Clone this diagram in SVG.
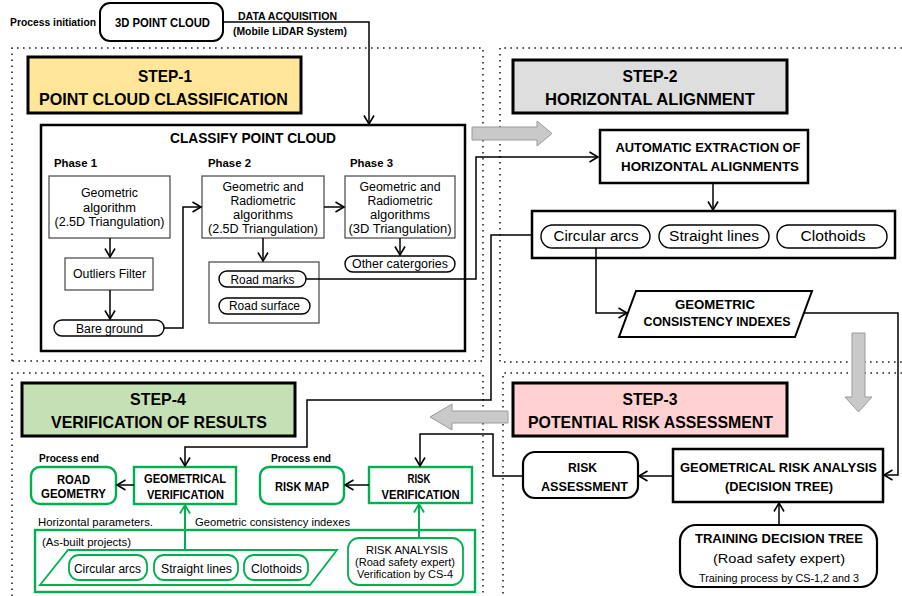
<svg xmlns="http://www.w3.org/2000/svg" width="902" height="596" viewBox="0 0 902 596">
<defs>
<marker id="ah" markerUnits="userSpaceOnUse" markerWidth="14" markerHeight="14" refX="9.5" refY="6" orient="auto">
<path d="M1,1 L9.5,6 L1,11" fill="none" stroke="#000" stroke-width="1.6"/>
</marker>
<marker id="ahg" markerUnits="userSpaceOnUse" markerWidth="14" markerHeight="14" refX="9.5" refY="6" orient="auto">
<path d="M1,1 L9.5,6 L1,11" fill="none" stroke="#00B050" stroke-width="1.8"/>
</marker>
</defs>
<style>
text{font-family:"Liberation Sans",Arial,sans-serif;fill:#000}
.b{font-weight:bold}
.step{font-size:17px;font-weight:bold}
.dot{fill:none;stroke:#222;stroke-width:1.6;stroke-dasharray:1.6 4.4}
.thick{fill:#fff;stroke:#000;stroke-width:2.5}
.thin{fill:#fff;stroke:#444;stroke-width:1.2}
.pill{fill:#fff;stroke:#000;stroke-width:1.4}
.g{fill:#fff;stroke:#00B050;stroke-width:2.4}
.gt{fill:#fff;stroke:#00B050;stroke-width:1.8}
.nf{fill:none}
.c{fill:none;stroke:#000;stroke-width:1.5}
.cg{fill:none;stroke:#00B050;stroke-width:2}
.blk{fill:#C9C9C9;stroke:#9A9A9A;stroke-width:1}
</style>

<g id="regions">
<path class="dot" d="M12,361 V48 H483 V361 H12"/>
<path class="dot" d="M902,48 H500 V362 H902"/>
<path class="dot" d="M12,596 V373 H483 V596"/>
<path class="dot" d="M902,373 H503 V596"/>
</g>

<g id="block-arrows">
<polygon class="blk" points="472,127 537,127 537,121 552,133.5 537,146 537,140 472,140"/>
<polygon class="blk" points="852,333 865,333 865,397 872,397 858.5,412 845,397 852,397"/>
<polygon class="blk" points="508,411 452,411 452,404 430,417 452,430 452,423 508,423"/>
</g>

<g id="start">
<text class="b" x="10" y="25.5" font-size="10" textLength="86" lengthAdjust="spacingAndGlyphs">Process initiation</text>
<text class="b" x="287.5" y="19.5" font-size="10" text-anchor="middle" textLength="99" lengthAdjust="spacingAndGlyphs">DATA ACQUISITION</text>
<text class="b" x="290" y="34.5" font-size="10" text-anchor="middle" textLength="114" lengthAdjust="spacingAndGlyphs">(Mobile LiDAR System)</text>
</g>
<g id="point-cloud">
<rect x="100" y="3" width="123" height="38" rx="10" fill="#fff" stroke="#000" stroke-width="2"/>
<text class="b" x="162.5" y="26.5" font-size="12.5" text-anchor="middle" textLength="95" lengthAdjust="spacingAndGlyphs">3D POINT CLOUD</text>
</g>

<g id="step1">
<rect x="28" y="57" width="273" height="56" fill="#FFE699" stroke="#000" stroke-width="3"/>
<text class="step" x="165" y="82" text-anchor="middle" textLength="54" lengthAdjust="spacingAndGlyphs">STEP-1</text>
<text class="step" x="163.5" y="105" text-anchor="middle" textLength="249" lengthAdjust="spacingAndGlyphs">POINT CLOUD CLASSIFICATION</text>
</g>
<g id="classify">
<rect class="thick nf" x="41" y="125" width="424" height="226"/>
<text class="b" x="253" y="143" font-size="14.5" text-anchor="middle" textLength="166" lengthAdjust="spacingAndGlyphs">CLASSIFY POINT CLOUD</text>
<text class="b" x="54" y="167" font-size="11.5" textLength="43" lengthAdjust="spacingAndGlyphs">Phase 1</text>
<text class="b" x="208" y="167" font-size="11.5" textLength="43" lengthAdjust="spacingAndGlyphs">Phase 2</text>
<text class="b" x="350" y="167" font-size="11.5" textLength="43" lengthAdjust="spacingAndGlyphs">Phase 3</text>
</g>
<g id="phase1">
<rect class="thin" x="49" y="176" width="121" height="62"/>
<text x="109.5" y="197" font-size="12" text-anchor="middle" textLength="57" lengthAdjust="spacingAndGlyphs">Geometric</text>
<text x="109.5" y="211.5" font-size="12" text-anchor="middle" textLength="53" lengthAdjust="spacingAndGlyphs">algorithm</text>
<text x="109.5" y="225.5" font-size="12" text-anchor="middle" textLength="110" lengthAdjust="spacingAndGlyphs">(2.5D Triangulation)</text>
</g>
<g id="outliers">
<rect class="thin" x="65" y="258" width="88" height="32"/>
<text x="109.5" y="278" font-size="12" text-anchor="middle" textLength="73" lengthAdjust="spacingAndGlyphs">Outliers Filter</text>
</g>
<g id="bare-ground">
<rect class="pill" x="54" y="320" width="110" height="16" rx="8"/>
<text x="109.5" y="332.5" font-size="12" text-anchor="middle" textLength="67" lengthAdjust="spacingAndGlyphs">Bare ground</text>
</g>
<g id="phase2">
<rect class="thin" x="202" y="176" width="122" height="62"/>
<text x="263" y="190.5" font-size="12" text-anchor="middle" textLength="81" lengthAdjust="spacingAndGlyphs">Geometric and</text>
<text x="263" y="204.5" font-size="12" text-anchor="middle" textLength="65" lengthAdjust="spacingAndGlyphs">Radiometric</text>
<text x="263" y="218.5" font-size="12" text-anchor="middle" textLength="60" lengthAdjust="spacingAndGlyphs">algorithms</text>
<text x="263" y="232.5" font-size="12" text-anchor="middle" textLength="110" lengthAdjust="spacingAndGlyphs">(2.5D Triangulation)</text>
</g>
<g id="phase3">
<rect class="thin" x="345" y="176" width="110" height="62"/>
<text x="400" y="190.5" font-size="12" text-anchor="middle" textLength="81" lengthAdjust="spacingAndGlyphs">Geometric and</text>
<text x="400" y="204.5" font-size="12" text-anchor="middle" textLength="65" lengthAdjust="spacingAndGlyphs">Radiometric</text>
<text x="400" y="218.5" font-size="12" text-anchor="middle" textLength="60" lengthAdjust="spacingAndGlyphs">algorithms</text>
<text x="400" y="232.5" font-size="12" text-anchor="middle" textLength="103" lengthAdjust="spacingAndGlyphs">(3D Triangulation)</text>
</g>
<g id="other-categories">
<rect class="pill" x="345" y="256" width="110" height="16" rx="8"/>
<text x="400" y="268" font-size="12" text-anchor="middle" textLength="96" lengthAdjust="spacingAndGlyphs">Other catergories</text>
</g>
<g id="road-classes">
<rect class="thin" x="209" y="262" width="110" height="61"/>
<rect class="pill" x="219" y="271" width="87" height="16" rx="8"/>
<text x="262.5" y="283.5" font-size="12" text-anchor="middle" textLength="64" lengthAdjust="spacingAndGlyphs">Road marks</text>
<rect class="pill" x="219" y="298" width="91" height="16" rx="8"/>
<text x="264.5" y="310" font-size="12" text-anchor="middle" textLength="71" lengthAdjust="spacingAndGlyphs">Road surface</text>
</g>

<g id="step2">
<rect x="513" y="60" width="274" height="53" fill="#DEDEDE" stroke="#000" stroke-width="3"/>
<text class="step" x="650" y="82" text-anchor="middle" textLength="55" lengthAdjust="spacingAndGlyphs">STEP-2</text>
<text class="step" x="650" y="105" text-anchor="middle" textLength="210" lengthAdjust="spacingAndGlyphs">HORIZONTAL ALIGNMENT</text>
</g>
<g id="auto-extraction">
<rect class="thick" x="600" y="130" width="208" height="53"/>
<text class="b" x="708" y="152" font-size="12.5" text-anchor="middle" textLength="185" lengthAdjust="spacingAndGlyphs">AUTOMATIC EXTRACTION OF</text>
<text class="b" x="710" y="171" font-size="12.5" text-anchor="middle" textLength="178" lengthAdjust="spacingAndGlyphs">HORIZONTAL ALIGNMENTS</text>
</g>
<g id="alignment-elements">
<rect class="thick" x="532" y="211" width="363" height="47"/>
<rect class="pill" x="541" y="225" width="109" height="23" rx="11.5"/>
<text x="596" y="240.5" font-size="14" text-anchor="middle" textLength="85" lengthAdjust="spacingAndGlyphs">Circular arcs</text>
<rect class="pill" x="659" y="225" width="110" height="23" rx="11.5"/>
<text x="714" y="240.5" font-size="14" text-anchor="middle" textLength="90" lengthAdjust="spacingAndGlyphs">Straight lines</text>
<rect class="pill" x="777" y="225" width="110" height="23" rx="11.5"/>
<text x="833" y="240.5" font-size="14" text-anchor="middle" textLength="65" lengthAdjust="spacingAndGlyphs">Clothoids</text>
</g>
<g id="consistency-indexes">
<polygon points="636,291 812,291 795,337 619,337" fill="#fff" stroke="#000" stroke-width="2"/>
<text class="b" x="715" y="309" font-size="12" text-anchor="middle" textLength="80" lengthAdjust="spacingAndGlyphs">GEOMETRIC</text>
<text class="b" x="717" y="325.5" font-size="12" text-anchor="middle" textLength="147" lengthAdjust="spacingAndGlyphs">CONSISTENCY INDEXES</text>
</g>

<g id="step3">
<rect x="513" y="383" width="274" height="53" fill="#FFD1D1" stroke="#000" stroke-width="3"/>
<text class="step" x="650" y="405" text-anchor="middle" textLength="55" lengthAdjust="spacingAndGlyphs">STEP-3</text>
<text class="step" x="650.5" y="428" text-anchor="middle" textLength="245" lengthAdjust="spacingAndGlyphs">POTENTIAL RISK ASSESSMENT</text>
</g>
<g id="risk-assessment">
<rect x="523" y="452" width="115" height="46" rx="12" fill="#fff" stroke="#000" stroke-width="2.2"/>
<text class="b" x="582.5" y="471.5" font-size="12.5" text-anchor="middle" textLength="29" lengthAdjust="spacingAndGlyphs">RISK</text>
<text class="b" x="584.5" y="490.5" font-size="12.5" text-anchor="middle" textLength="87" lengthAdjust="spacingAndGlyphs">ASSESSMENT</text>
</g>
<g id="geometrical-risk-analysis">
<rect class="thick" x="673" y="449" width="210" height="53"/>
<text class="b" x="778.5" y="471.5" font-size="12.5" text-anchor="middle" textLength="197" lengthAdjust="spacingAndGlyphs">GEOMETRICAL RISK ANALYSIS</text>
<text class="b" x="779" y="490.5" font-size="12.5" text-anchor="middle" textLength="108" lengthAdjust="spacingAndGlyphs">(DECISION TREE)</text>
</g>
<g id="training">
<rect x="680" y="525" width="197" height="62" rx="16" fill="#fff" stroke="#000" stroke-width="2.2"/>
<text class="b" x="779" y="543" font-size="13" text-anchor="middle" textLength="168" lengthAdjust="spacingAndGlyphs">TRAINING DECISION TREE</text>
<text x="779" y="563" font-size="13.5" text-anchor="middle" textLength="132" lengthAdjust="spacingAndGlyphs">(Road safety expert)</text>
<text x="779" y="581.5" font-size="10" text-anchor="middle" textLength="160" lengthAdjust="spacingAndGlyphs">Training process by CS-1,2 and 3</text>
</g>

<g id="step4">
<rect x="22" y="383" width="273" height="53" fill="#C5E0B4" stroke="#000" stroke-width="3"/>
<text class="step" x="158" y="405" text-anchor="middle" textLength="56" lengthAdjust="spacingAndGlyphs">STEP-4</text>
<text class="step" x="159" y="428" text-anchor="middle" textLength="216" lengthAdjust="spacingAndGlyphs">VERIFICATION OF RESULTS</text>
</g>
<g id="labels-step4">
<text class="b" x="39" y="462" font-size="11" textLength="60" lengthAdjust="spacingAndGlyphs">Process end</text>
<text class="b" x="271" y="462" font-size="11" textLength="60" lengthAdjust="spacingAndGlyphs">Process end</text>
<text x="38" y="526" font-size="11" textLength="115" lengthAdjust="spacingAndGlyphs">Horizontal parameters.</text>
<text x="195" y="526" font-size="11" textLength="155" lengthAdjust="spacingAndGlyphs">Geometric consistency indexes</text>
</g>
<g id="road-geometry">
<rect class="g" x="31" y="467" width="85" height="37" rx="9"/>
<text class="b" x="73.5" y="483.5" font-size="12.5" text-anchor="middle" textLength="33" lengthAdjust="spacingAndGlyphs">ROAD</text>
<text class="b" x="73.5" y="497.5" font-size="12.5" text-anchor="middle" textLength="65" lengthAdjust="spacingAndGlyphs">GEOMETRY</text>
</g>
<g id="geometrical-verification">
<rect class="g" x="134" y="467" width="102" height="37"/>
<text class="b" x="185" y="482.5" font-size="12.5" text-anchor="middle" textLength="82" lengthAdjust="spacingAndGlyphs">GEOMETRICAL</text>
<text class="b" x="185.5" y="498.5" font-size="12.5" text-anchor="middle" textLength="77" lengthAdjust="spacingAndGlyphs">VERIFICATION</text>
</g>
<g id="risk-map">
<rect class="g" x="260" y="467" width="84" height="37" rx="9"/>
<text class="b" x="302" y="490.5" font-size="12.5" text-anchor="middle" textLength="54" lengthAdjust="spacingAndGlyphs">RISK MAP</text>
</g>
<g id="risk-verification">
<rect class="g" x="369" y="467" width="103" height="36"/>
<text class="b" x="419" y="482.5" font-size="12.5" text-anchor="middle" textLength="23" lengthAdjust="spacingAndGlyphs">RISK</text>
<text class="b" x="420.5" y="498.5" font-size="12.5" text-anchor="middle" textLength="78" lengthAdjust="spacingAndGlyphs">VERIFICATION</text>
</g>
<g id="as-built">
<rect class="g nf" x="35" y="530" width="440" height="62"/>
<text x="42" y="545.5" font-size="11" textLength="89" lengthAdjust="spacingAndGlyphs">(As-built projects)</text>
<polygon class="gt" points="68,550 337,550 310,585 40,585"/>
<rect class="gt" x="69" y="555" width="78" height="25" rx="10"/>
<text x="107.5" y="572.5" font-size="12.5" text-anchor="middle" textLength="67" lengthAdjust="spacingAndGlyphs">Circular arcs</text>
<rect class="gt" x="154" y="555" width="84" height="25" rx="10"/>
<text x="196.5" y="572.5" font-size="12.5" text-anchor="middle" textLength="71" lengthAdjust="spacingAndGlyphs">Straight lines</text>
<rect class="gt" x="244" y="555" width="64" height="25" rx="10"/>
<text x="276.5" y="572.5" font-size="12.5" text-anchor="middle" textLength="51" lengthAdjust="spacingAndGlyphs">Clothoids</text>
</g>
<g id="risk-analysis">
<rect class="gt" x="348" y="538" width="115" height="47" rx="11"/>
<text x="407" y="554" font-size="10.5" text-anchor="middle" textLength="82" lengthAdjust="spacingAndGlyphs">RISK ANALYSIS</text>
<text x="405" y="566" font-size="10.5" text-anchor="middle" textLength="100" lengthAdjust="spacingAndGlyphs">(Road safety expert)</text>
<text x="405" y="578" font-size="10.5" text-anchor="middle" textLength="96" lengthAdjust="spacingAndGlyphs">Verification by CS-4</text>
</g>

<g id="connectors">
<path class="c" d="M223,22 H369 V124" marker-end="url(#ah)"/>
<path class="c" d="M110,238 V257" marker-end="url(#ah)"/>
<path class="c" d="M110,290 V319" marker-end="url(#ah)"/>
<path class="c" d="M164,328 H183 V207 H201" marker-end="url(#ah)"/>
<path class="c" d="M324,207 H344" marker-end="url(#ah)"/>
<path class="c" d="M263,238 V261" marker-end="url(#ah)"/>
<path class="c" d="M400,238 V255" marker-end="url(#ah)"/>
<path class="c" d="M306,279 H476 V157 H598" marker-end="url(#ah)"/>
<path class="c" d="M713,183 V210" marker-end="url(#ah)"/>
<path class="c" d="M596,248 V313 H627" marker-end="url(#ah)"/>
<path class="c" d="M804,313 H898 V475 H884" marker-end="url(#ah)"/>
<path class="c" d="M531,235 H491 V400 H307 V447 H185 V466" marker-end="url(#ah)"/>
<path class="c" d="M673,476 H639" marker-end="url(#ah)"/>
<path class="c" d="M779,525 V503" marker-end="url(#ah)"/>
<path class="c" d="M523,476 H493 V434 H420 V466" marker-end="url(#ah)"/>
<path class="c" d="M134,485 H117" marker-end="url(#ah)"/>
<path class="c" d="M369,485 H345" marker-end="url(#ah)"/>
<path class="cg" d="M185,550 V505" marker-end="url(#ahg)"/>
<path class="cg" d="M419,538 V504" marker-end="url(#ahg)"/>
</g>
</svg>
